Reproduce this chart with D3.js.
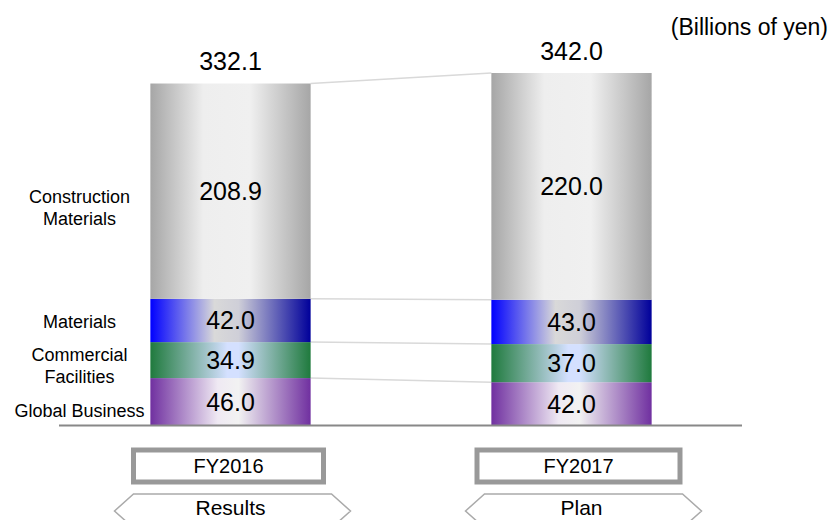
<!DOCTYPE html>
<html>
<head>
<meta charset="utf-8">
<script src="https://cdn.jsdelivr.net/npm/d3@7"></script>
<style>
  html, body { margin: 0; padding: 0; background: #fff; }
  svg { display: block; font-family: Arial, "Liberation Sans", sans-serif; }
</style>
</head>
<body>
<svg id="chart" width="832" height="520"></svg>
<script>
// Net sales by segment (billions of yen)
const years = ["FY2016", "FY2017"];
const yearTags = ["Results", "Plan"];
const segments = ["Global Business", "Commercial Facilities", "Materials", "Construction Materials"];
const segmentLabels = [["Global Business"], ["Commercial", "Facilities"], ["Materials"], ["Construction", "Materials"]];
const globalBusiness = [46.0, 42.0];
const commercialFacilities = [34.9, 37.0];
const materials = [42.0, 43.0];
const constructionMaterials = [208.9, 220.0];
const totals = [332.1, 342.0];
const unitLabel = "(Billions of yen)";

const seriesValues = [globalBusiness, commercialFacilities, materials, constructionMaterials];

const svg = d3.select("#chart");
const defs = svg.append("defs");

// Cylinder-like horizontal gradients per segment
const gradients = [
  { id: "g-global", stops: [[0, "#7030a0"], [0.42, "#efe9f3"], [0.55, "#f2f2f2"], [1, "#7030a0"]] },
  { id: "g-commercial", stops: [[0, "#1f7a3d"], [0.48, "#d4e0ff"], [0.55, "#d4e0ff"], [1, "#1f7a3d"]] },
  { id: "g-materials", stops: [[0, "#0000ff"], [0.4, "#d9d9d9"], [0.55, "#cfcfd8"], [1, "#00009a"]] },
  { id: "g-construction", stops: [[0, "#a6a6a6"], [0.33, "#eeeeee"], [0.62, "#f0f0f0"], [1, "#a6a6a6"]] }
];
gradients.forEach(g => {
  const lg = defs.append("linearGradient").attr("id", g.id)
    .attr("x1", "0%").attr("x2", "100%").attr("y1", "0%").attr("y2", "0%");
  g.stops.forEach(s => lg.append("stop").attr("offset", s[0]).attr("stop-color", s[1]));
});

const x = d3.scaleBand().domain(years).range([60, 742]).paddingInner(0.53).paddingOuter(0.265);
const y = d3.scaleLinear().domain([0, 342]).range([425.5, 73]);

const stacked = d3.stack().keys(d3.range(segments.length))
  .value((d, k) => seriesValues[k][d])(d3.range(years.length));

// Connector lines between the two bars at each boundary
const bw = x.bandwidth();
stacked.forEach(layer => {
  svg.append("line")
    .attr("x1", x(years[0]) + bw).attr("y1", y(layer[0][1]))
    .attr("x2", x(years[1])).attr("y2", y(layer[1][1]))
    .attr("stroke", "#d9d9d9").attr("stroke-width", 1.5);
});

// Stacked segments with their values
stacked.forEach((layer, k) => {
  svg.append("g").selectAll("rect").data(layer).join("rect")
    .attr("x", (d, i) => x(years[i]))
    .attr("width", bw)
    .attr("y", d => y(d[1]))
    .attr("height", d => y(d[0]) - y(d[1]))
    .attr("fill", `url(#${gradients[k].id})`);
  svg.append("g").selectAll("text").data(layer).join("text")
    .attr("x", (d, i) => x(years[i]) + bw / 2)
    .attr("y", d => (y(d[0]) + y(d[1])) / 2)
    .attr("dy", "0.36em")
    .attr("text-anchor", "middle")
    .attr("font-size", 25)
    .attr("fill", "#000")
    .text((d, i) => seriesValues[k][i].toFixed(1));
});

// Baseline
svg.append("line").attr("x1", 59).attr("x2", 742).attr("y1", 425.5).attr("y2", 425.5)
  .attr("stroke", "#888").attr("stroke-width", 2);

// Totals above bars
svg.append("g").selectAll("text").data(totals).join("text")
  .attr("x", (d, i) => x(years[i]) + bw / 2)
  .attr("y", d => y(d) - 13)
  .attr("text-anchor", "middle")
  .attr("font-size", 25)
  .text(d => d.toFixed(1));

// Segment names on the left, set slightly below the first bar's segment centres
const labelNudge = [9, 5, 1, 16];
stacked.forEach((layer, k) => {
  const lines = segmentLabels[k];
  const cy = (y(layer[0][0]) + y(layer[0][1])) / 2 + labelNudge[k];
  const lh = 22;
  const t = svg.append("text").attr("text-anchor", "middle").attr("font-size", 18);
  lines.forEach((ln, j) => {
    t.append("tspan").attr("x", 79.5)
      .attr("y", cy + (j - (lines.length - 1) / 2) * lh)
      .attr("dy", "0.36em").text(ln);
  });
});

// Unit label
svg.append("text").attr("x", 828).attr("y", 35).attr("text-anchor", "end")
  .attr("font-size", 23).text(unitLabel);

// Year boxes and tags under each bar
years.forEach((yr, i) => {
  const cx = x(yr) + bw / 2 + (i === 0 ? -2 : 7);
  const boxW = i === 0 ? 190 : 203;
  svg.append("rect").attr("x", cx - boxW / 2).attr("y", 450).attr("width", boxW).attr("height", 32)
    .attr("fill", "#fff").attr("stroke", "#999").attr("stroke-width", 5);
  svg.append("text").attr("x", cx).attr("y", 473).attr("text-anchor", "middle")
    .attr("font-size", 20).text(yr);

  const hx = x(yr) + bw / 2 + (i === 0 ? 2 : 12);
  const hw = 118;
  const top = 494, mid = 511, bot = 528, slant = 19;
  const pts = [[hx - hw, mid], [hx - hw + slant, top], [hx + hw - slant, top], [hx + hw, mid], [hx + hw - slant, bot], [hx - hw + slant, bot]];
  svg.append("path").attr("d", d3.line()(pts) + "Z")
    .attr("fill", "#fff").attr("stroke", "#aaa").attr("stroke-width", 1.5);
  svg.append("text").attr("x", hx - 2).attr("y", 515).attr("text-anchor", "middle")
    .attr("font-size", 21).text(yearTags[i]);
});
</script>
</body>
</html>
